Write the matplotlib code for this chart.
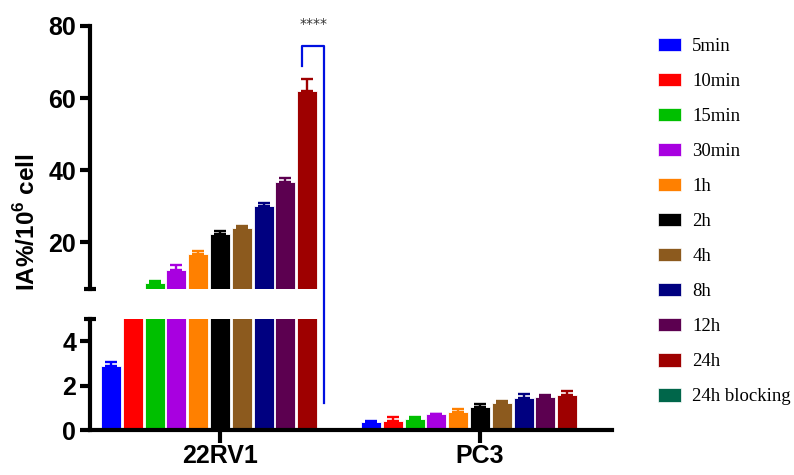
import matplotlib
matplotlib.use("Agg")
import matplotlib.pyplot as plt
import numpy as np
from matplotlib.patches import Patch
from matplotlib.lines import Line2D

plt.rcParams["font.family"] = ["Liberation Sans", "DejaVu Sans"]
plt.rcParams["mathtext.fontset"] = "custom"
plt.rcParams["mathtext.bf"] = "Liberation Sans:bold"
plt.rcParams["mathtext.rm"] = "Liberation Sans:bold"

cell_lines = ["22RV1", "PC3"]
time_points = ["5min", "10min", "15min", "30min", "1h", "2h", "4h",
               "8h", "12h", "24h", "24h blocking"]
colors = ["#0000FF", "#FF0000", "#00BF00", "#A800E0", "#FF8000", "#000000",
          "#8C5A1E", "#000080", "#5C0050", "#9E0000", "#00664A"]

# uptake (IA%/10^6 cells), mean and SD per time point
mean_22rv1 = [2.9, 6.0, 8.6, 12.4, 16.6, 22.2, 23.8, 30.1, 36.7, 61.9, 0.0]
sd_22rv1 = [0.15, 0.3, 0.6, 1.3, 1.0, 1.0, 0.7, 0.9, 1.2, 3.4, 0.0]
mean_pc3 = [0.36, 0.40, 0.48, 0.70, 0.80, 1.02, 1.20, 1.42, 1.47, 1.59, 0.0]
sd_pc3 = [0.06, 0.20, 0.09, 0.02, 0.13, 0.13, 0.09, 0.18, 0.10, 0.15, 0.0]

n = len(time_points)
slot = 0.0838
bar_w = 0.077
group_x = np.arange(len(cell_lines))
offsets = (np.arange(n) - (n - 1) / 2) * slot

fig = plt.figure(figsize=(7.94, 4.75), dpi=100)
ax_top = fig.add_axes([0.1134, 0.3916, 0.6574, 0.5537])
ax_bot = fig.add_axes([0.1134, 0.0947, 0.6574, 0.2337])

means = np.array([mean_22rv1, mean_pc3])
sds = np.array([sd_22rv1, sd_pc3])

for ax in (ax_top, ax_bot):
    for i in range(n):
        xs = group_x + offsets[i]
        ax.bar(xs, means[:, i], width=bar_w, color=colors[i],
               edgecolor="white", linewidth=0.6, zorder=2)
        # upward-only SD bars, skipped where there is no bar
        has = means[:, i] > 0
        if has.any():
            ax.errorbar(xs[has], means[has, i],
                        yerr=[np.zeros(has.sum()), sds[has, i]],
                        fmt="none", ecolor=colors[i], elinewidth=1.7,
                        capsize=4.5, capthick=1.7, zorder=3)
    ax.set_xlim(-0.5, 1.508)
    for s in ("top", "right"):
        ax.spines[s].set_visible(False)
    ax.spines["left"].set_linewidth(3)
    ax.spines["bottom"].set_linewidth(3)
    ax.tick_params(axis="y", width=3, length=7, labelsize=18, pad=3)

ax_top.set_ylim(7, 80)
ax_top.set_yticks([20, 40, 60, 80])
ax_top.spines["bottom"].set_visible(False)
ax_top.set_xticks([])

ax_bot.set_ylim(0, 5)
ax_bot.set_yticks([0, 2, 4])
ax_bot.set_xticks(group_x)
ax_bot.set_xticklabels(cell_lines, fontsize=18, fontweight="bold")
ax_bot.tick_params(axis="x", width=3, length=9, pad=1)
for ax in (ax_top, ax_bot):
    for lab in ax.get_yticklabels():
        lab.set_fontweight("bold")

# break marks at the cut ends of the y axis
cap = 0.0115
ax_top.plot([-cap, cap], [0, 0], transform=ax_top.transAxes, color="black",
            lw=3, clip_on=False, solid_capstyle="butt")
ax_bot.plot([-cap, cap], [1, 1], transform=ax_bot.transAxes, color="black",
            lw=3, clip_on=False, solid_capstyle="butt")

# significance bracket: 24h vs 24h blocking on 22RV1
x_left = group_x[0] + offsets[9] - 0.018
x_right = group_x[0] + offsets[10] - 0.02
to_fig = fig.transFigure.inverted()
p1 = to_fig.transform(ax_top.transData.transform((x_left, 69)))
p2 = to_fig.transform(ax_top.transData.transform((x_left, 74.5)))
p3 = to_fig.transform(ax_top.transData.transform((x_right, 74.5)))
p4 = to_fig.transform(ax_bot.transData.transform((x_right, 1.2)))
fig.add_artist(Line2D([p1[0], p2[0], p3[0], p4[0]], [p1[1], p2[1], p3[1], p4[1]],
                      color="#0010E0", lw=1.6, transform=fig.transFigure))
ax_top.text((x_left + x_right) / 2, 80.6, "****", ha="center", va="center",
            fontsize=10, color="#333333", clip_on=False,
            family=["DejaVu Sans"])

fig.text(0.034, 1 - 222 / 475, r"IA%/10$^{\mathbf{6}}$ cell", rotation=90,
         ha="center", va="center", fontsize=17.5, fontweight="bold")

handles = [Patch(facecolor=c, edgecolor="white", linewidth=0.5) for c in colors]
fig.legend(handles, time_points, loc="upper left",
           bbox_to_anchor=(650 / 794, 1 - 30 / 475), frameon=False,
           prop={"family": ["Liberation Serif"], "size": 13.5},
           handlelength=1.25, handleheight=0.75, handletextpad=0.6,
           labelspacing=0.94, borderaxespad=0)

fig.savefig("out.png", dpi=100)
